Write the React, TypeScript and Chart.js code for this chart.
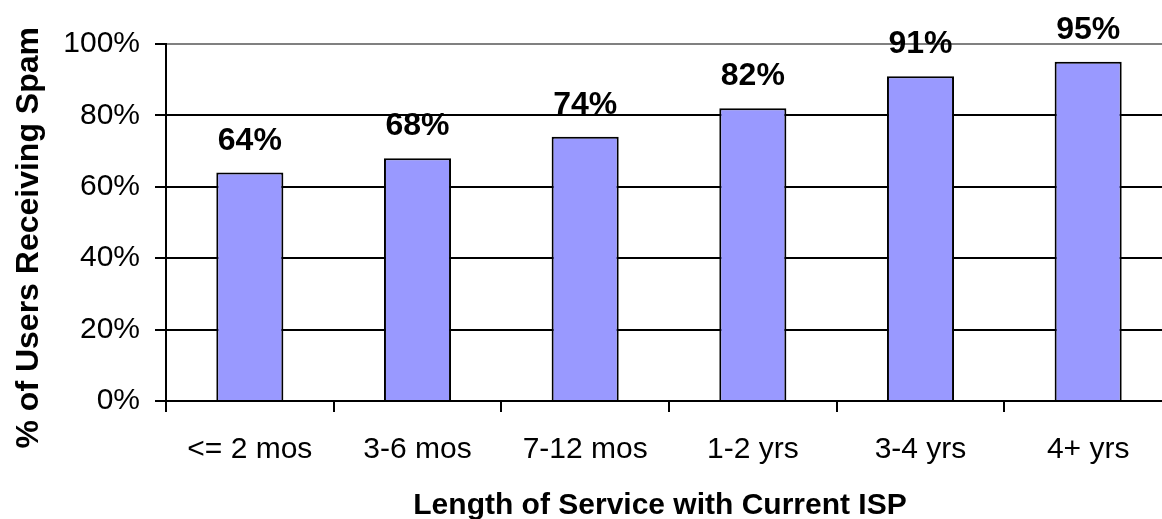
import React, { useEffect, useRef } from "react";
import { Chart, registerables } from "chart.js";

Chart.register(...registerables);

const categories = ["<= 2 mos", "3-6 mos", "7-12 mos", "1-2 yrs", "3-4 yrs", "4+ yrs"];
const spamShare = [64, 68, 74, 82, 91, 95];
const yTicks = [0, 20, 40, 60, 80, 100];
const yTitle = "% of Users Receiving Spam";
const xTitle = "Length of Service with Current ISP";

const FONT = '"Liberation Sans", Arial, Helvetica, sans-serif';

// Percent labels above each bar
const barValueLabels = {
  id: "barValueLabels",
  afterDatasetsDraw(chart: any) {
    const ctx = chart.ctx;
    const meta = chart.getDatasetMeta(0);
    ctx.save();
    ctx.font = `bold 32px ${FONT}`;
    ctx.fillStyle = "#000";
    ctx.textAlign = "center";
    ctx.textBaseline = "alphabetic";
    meta.data.forEach((bar: any, i: number) => {
      ctx.fillText(`${spamShare[i]}%`, bar.x, bar.y - 23);
    });
    ctx.restore();
  },
};

// Axis titles placed by hand
const axisTitles = {
  id: "axisTitles",
  afterDraw(chart: any) {
    const ctx = chart.ctx;
    ctx.save();
    ctx.fillStyle = "#000";
    ctx.font = `bold 30px ${FONT}`;
    ctx.textBaseline = "alphabetic";
    ctx.textAlign = "center";
    ctx.fillText(xTitle, 660, 514);
    ctx.font = `bold 32px ${FONT}`;
    ctx.translate(38, 27);
    ctx.rotate(-Math.PI / 2);
    ctx.textAlign = "right";
    ctx.fillText(yTitle, 0, 0);
    ctx.restore();
  },
};

export default function App() {
  const canvasRef = useRef<HTMLCanvasElement | null>(null);

  useEffect(() => {
    if (!canvasRef.current) return;
    const chart = new Chart(canvasRef.current, {
      type: "bar",
      data: {
        labels: categories,
        datasets: [
          {
            data: spamShare,
            backgroundColor: "#9999FF",
            borderColor: "#000000",
            borderWidth: 2,
            categoryPercentage: 1,
            barPercentage: 0.4,
          },
        ],
      },
      options: {
        responsive: false,
        animation: false,
        layout: { padding: { left: 0, top: 44, right: 0, bottom: 0 } },
        plugins: {
          legend: { display: false },
          tooltip: { enabled: false },
        },
        scales: {
          x: {
            offset: true,
            grid: {
              offset: true,
              drawOnChartArea: false,
              drawTicks: true,
              tickLength: 11,
              color: "#000",
              lineWidth: 2,
            },
            border: { display: true, color: "#000", width: 2 },
            ticks: {
              color: "#000",
              font: { family: FONT, size: 30 },
              padding: 20,
              maxRotation: 0,
              autoSkip: false,
            },
            afterFit(scale: any) {
              scale.height = 118;
            },
          },
          y: {
            min: 0,
            max: 100,
            afterBuildTicks(scale: any) {
              scale.ticks = yTicks.map((v) => ({ value: v }));
            },
            grid: {
              color: (c: any) => (c.tick && c.tick.value === 100 ? "#808080" : "#000"),
              tickColor: "#000",
              lineWidth: 2,
              tickLength: 11,
            },
            border: { display: true, color: "#000", width: 2 },
            ticks: {
              color: "#000",
              font: { family: FONT, size: 30 },
              padding: 15,
              callback: (v: any) => `${v}%`,
            },
            afterFit(scale: any) {
              scale.width = 166;
            },
          },
        },
      },
      plugins: [barValueLabels, axisTitles],
    });
    return () => chart.destroy();
  }, []);

  return (
    <div
      style={{
        position: "absolute",
        left: 0,
        top: 0,
        width: 1162,
        height: 519,
        overflow: "hidden",
        background: "#fff",
      }}
    >
      <canvas ref={canvasRef} width={1172} height={519} style={{ display: "block" }} />
    </div>
  );
}
